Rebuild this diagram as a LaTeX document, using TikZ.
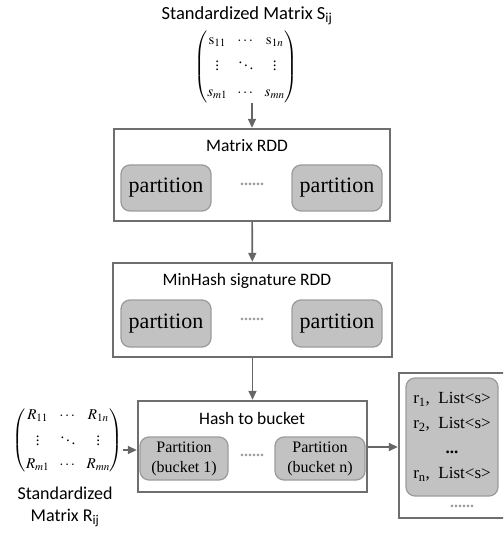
\documentclass[tikz,border=0pt]{standalone}
\usepackage{amsmath}
\usepackage{mathptmx}
\usepackage{fontspec}
\setmainfont{Liberation Serif}
\newfontfamily\calib{Carlito}
\usetikzlibrary{positioning,arrows.meta,calc}
\definecolor{cframe}{HTML}{6E6E6E}
\definecolor{cpart}{HTML}{C2C2C2}
\definecolor{cpartline}{HTML}{9C9C9C}
\definecolor{carrow}{HTML}{666666}
\tikzset{
  rddbox/.style={draw=cframe, line width=2.4pt, minimum width=#1, inner sep=0pt},
  part/.style={draw=cpartline, line width=1.3pt, fill=cpart, rounded corners=9pt, minimum width=90pt, minimum height=46pt, inner sep=0pt, align=center},
  boxtitle/.style={font=\calib\fontsize{17.5}{20}\selectfont},
  dotsn/.style={text=cpartline, font=\fontsize{16}{16}\selectfont\bfseries},
  sig/.style={-{Triangle[length=9pt,width=8pt]}, draw=carrow, line width=1.6pt},
}

\begin{document}
\begin{tikzpicture}[x=1pt, y=-1pt, every node/.style={inner sep=0pt}]
      \useasboundingbox (0,0) rectangle (503,534);
      \clip (0,0) rectangle (503,534);
      % input matrix S
      \node[boxtitle, font=\calib\fontsize{18.5}{20}\selectfont] (stitle) at (247,16) {Standardized Matrix S\textsubscript{ij}};
      \node (smat) at (246,67) {\fontsize{15}{18}\selectfont
        $\left(\begin{matrix}\mathrm{s}_{11} & \cdots & \mathrm{s}_{1n}\\[5pt] \vdots & \ddots & \vdots\\[8pt] s_{m1} & \cdots & s_{mn}\end{matrix}\right)$};
      % Matrix RDD
      \node[rddbox=276pt, minimum height=92pt] (rdd) at (252,175) {};
      \node[boxtitle] (rddtitle) at (247,146) {Matrix RDD};
      \node[part, font=\fontsize{22}{24}\selectfont] (p1) at (166,188) {partition};
      \node[part, font=\fontsize{22}{24}\selectfont] (p2) at (337,188) {partition};
      \node[dotsn] (d1) at (252,184) {......};
      % MinHash signature RDD
      \node[rddbox=279pt, minimum height=94pt] (mh) at (252.5,310) {};
      \node[boxtitle] (mhtitle) at (247,281) {MinHash signature RDD};
      \node[part, font=\fontsize{22}{24}\selectfont, minimum height=47pt] (p3) at (166,323.5) {partition};
      \node[part, font=\fontsize{22}{24}\selectfont, minimum height=47pt] (p4) at (337,323.5) {partition};
      \node[dotsn] (d2) at (252,319) {......};
      % Hash to bucket
      \node[rddbox=229pt, minimum height=91pt] (hb) at (252.5,446.5) {};
      \node[boxtitle] (hbtitle) at (252,418) {Hash to bucket};
      \node[part, font=\fontsize{16}{20}\selectfont, minimum width=88pt, minimum height=43pt] (b1) at (184,458.5) {Partition\\(bucket 1)};
      \node[part, font=\fontsize{16}{20}\selectfont, minimum height=43pt] (b2) at (320,458.5) {Partition\\(bucket n)};
      \node[dotsn] (d3) at (252,455) {......};
      % input matrix R
      \node (rmat) at (68,440) {\fontsize{15}{18}\selectfont
        $\left(\begin{matrix}R_{11} & \cdots & R_{1n}\\[5pt] \vdots & \ddots & \vdots\\[5pt] R_{m1} & \cdots & R_{mn}\end{matrix}\right)$};
      \node[boxtitle, align=center, font=\calib\fontsize{18}{22}\selectfont] (rlabel) at (65,507) {Standardized\\Matrix R\textsubscript{ij}};
      % output buckets
      \node[rddbox=110pt, minimum height=145pt] (out) at (454,445.5) {};
      \node[part, minimum width=92pt, minimum height=118pt, font=\fontsize{17}{25}\selectfont] (lst) at (452,437)
        {r\textsubscript{1},~ List<s>\\ r\textsubscript{2},~ List<s>\\ \textbf{...}\\ r\textsubscript{n},~ List<s>};
      \node[dotsn] (d4) at (462,506) {......};
      % arrows
      \draw[sig] (smat.south -| rdd.north) -- (rdd.north);
      \draw[sig] (rdd) -- (mh);
      \draw[sig] (mh) -- (hb);
      \draw[sig] (rmat.east |- 0,450) -- (hb.west |- 0,450);
      \draw[sig] (hb.east |- 0,447) -- (out.west |- 0,447);
    \end{tikzpicture}
\end{document}
